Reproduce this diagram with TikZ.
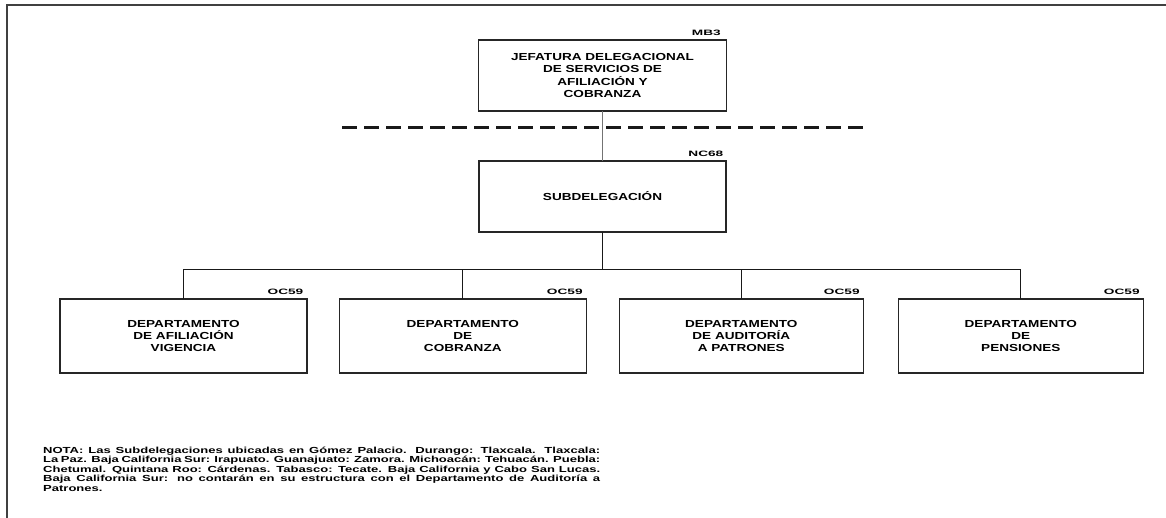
\documentclass[tikz,border=0pt]{standalone}
\usepackage{fontspec}
\setmainfont{Liberation Sans}
\newfontfamily\boxfont[FakeStretch=1.33]{Liberation Sans}
\newfontfamily\labfont[FakeStretch=1.75]{Liberation Sans}
\newfontfamily\notefont[FakeStretch=1.48]{Liberation Sans}
\begin{document}
\begin{tikzpicture}[x=1pt,y=-1pt,
  orgbox/.style={draw=black!85,line width=1.4pt,rectangle,inner sep=0pt,outer sep=0pt,
    minimum height=74pt,align=center,
    font=\boxfont\bfseries\fontsize{10.2}{12.4}\selectfont},
  codelab/.style={anchor=south east,inner sep=0pt,
    font=\labfont\bfseries\fontsize{7.8}{8}\selectfont},
  conn/.style={draw=black!90,line width=1.1pt},
  frameline/.style={draw=black!75,line width=2pt}]
\useasboundingbox (0,0) rectangle (1166,518);
% page frame
\coordinate (fl) at (7,518);
\coordinate (fc) at (7,5);
\coordinate (fr) at (1166,5);
\draw[frameline] (fl) -- (fc) -- (fr);
% boxes
\node[orgbox,minimum width=248pt,minimum height=71pt] (top) at (602.5,75.5)
  {JEFATURA DELEGACIONAL\\DE SERVICIOS DE\\AFILIACIÓN Y\\COBRANZA};
\node[codelab] (ltop) at (721,35.5) {MB3};
\node[orgbox,minimum width=247pt,minimum height=71pt] (sub) at (602.5,196.5)
  {SUBDELEGACIÓN};
\node[codelab] (lsub) at (723.5,156.5) {NC68};
\node[orgbox,minimum width=247pt] (d1) at (183.5,336)
  {DEPARTAMENTO\\DE AFILIACIÓN\\VIGENCIA};
\node[orgbox,minimum width=247pt] (d2) at (462.8,336)
  {DEPARTAMENTO\\DE\\COBRANZA};
\node[orgbox,minimum width=244pt] (d3) at (741.3,336)
  {DEPARTAMENTO\\DE AUDITORÍA\\A PATRONES};
\node[orgbox,minimum width=245pt] (d4) at (1020.8,336)
  {DEPARTAMENTO\\DE\\PENSIONES};
\node[codelab] (l1) at ([shift={(-3.5pt,4.5pt)}]d1.north east) {OC59};
\node[codelab] (l2) at ([shift={(-3.5pt,4.5pt)}]d2.north east) {OC59};
\node[codelab] (l3) at ([shift={(-3.5pt,4.5pt)}]d3.north east) {OC59};
\node[codelab] (l4) at ([shift={(-3.5pt,4.5pt)}]d4.north east) {OC59};
% dashed line
\coordinate (dl) at (342,128);
\coordinate (dr) at (866,128);
\draw[line width=3pt,dash pattern=on 15pt off 7pt,draw=black!90] (dl) -- (dr);
% connectors
\coordinate (bus) at (602.5,269.5);
\draw[draw=black!55,line width=1pt] (top.south) -- (sub.north);
\draw[conn] (sub.south) -- (bus);
\draw[conn] (d1.north) -- (d1.north |- bus) -- (d4.north |- bus) -- (d4.north);
\draw[conn] (d2.north) -- (d2.north |- bus);
\draw[conn] (d3.north) -- (d3.north |- bus);
% note
\node[anchor=north west,inner sep=0pt,text width=557pt,align=justify,
  font=\notefont\bfseries\fontsize{8.8}{9.6}\selectfont] (note) at (43,446.5)
  {NOTA: Las Subdelegaciones ubicadas en Gómez Palacio. Durango: Tlaxcala. Tlaxcala:\linebreak
   La Paz. Baja California Sur: Irapuato. Guanajuato: Zamora. Michoacán: Tehuacán. Puebla:\linebreak
   Chetumal. Quintana Roo: Cárdenas. Tabasco: Tecate. Baja California y Cabo San Lucas.\linebreak
   Baja California Sur: no contarán en su estructura con el Departamento de Auditoría a\linebreak
   Patrones.};
\end{tikzpicture}
\end{document}
